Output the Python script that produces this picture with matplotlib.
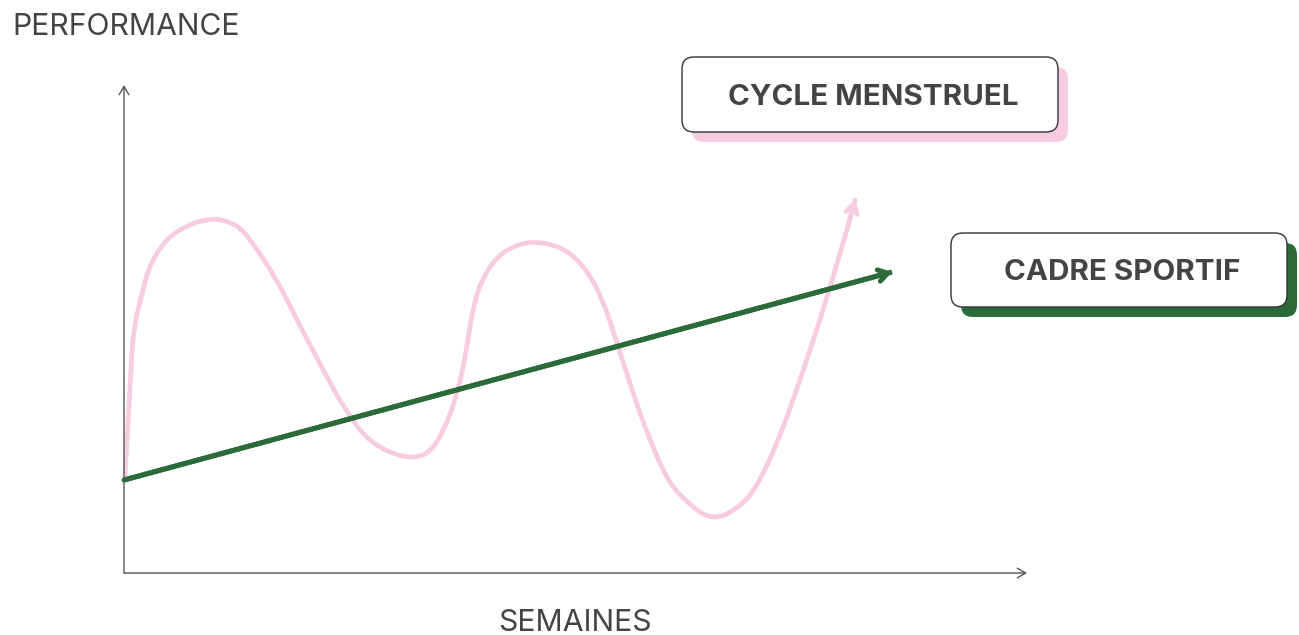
import matplotlib
matplotlib.use('Agg')
import matplotlib.pyplot as plt
from matplotlib.patches import FancyBboxPatch, PathPatch
from matplotlib.path import Path

# data (units: px from the origin of the axes, y upward)
cycle_x = [1, 6, 9, 19, 24, 36, 53, 86, 113, 129, 153, 173, 199, 223, 246, 279,
           303, 319, 334, 343, 348, 356, 373, 396, 419, 443, 463, 479, 493,
           509, 523, 543, 563, 589, 616, 633, 656, 676, 696, 709, 723, 731]
cycle_y = [98, 183, 243, 283, 303, 326, 343, 356, 349, 330, 293, 253, 203, 160,
           130, 115, 117, 140, 180, 226, 260, 290, 317, 330, 331, 323, 303, 273,
           230, 180, 140, 93, 70, 52, 66, 86, 136, 193, 253, 296, 343, 373]
trend_x = [0, 768]
trend_y = [93, 301]

frame_x = [0, 903]
frame_y = [0, 488]

pink = '#f7cce0'
green = '#2b6b3a'
ink = '#444444'

fig = plt.figure(figsize=(12.99, 6.35), dpi=100)
ax = fig.add_axes([0, 0, 1, 1])
ax.set_xlim(-124, 1175)
ax.set_ylim(-62, 573)
ax.axis('off')

# axes with open arrow heads
arr = dict(arrowstyle='->,head_length=0.6,head_width=0.35', color='#555555',
           lw=1.0, shrinkA=0, shrinkB=0)
ax.annotate('', xy=(frame_x[1], 0), xytext=(0, 0), arrowprops=arr)
ax.annotate('', xy=(0, frame_y[1]), xytext=(0, 0), arrowprops=arr)

# menstrual cycle curve, smoothed with quadratic bezier segments
pts = list(zip(cycle_x, cycle_y))
verts = [pts[0]]
codes = [Path.MOVETO]
for i in range(1, len(pts) - 2):
    mid = ((pts[i][0] + pts[i + 1][0]) / 2, (pts[i][1] + pts[i + 1][1]) / 2)
    verts += [pts[i], mid]
    codes += [Path.CURVE3, Path.CURVE3]
verts += [pts[-2], pts[-1]]
codes += [Path.CURVE3, Path.CURVE3]
ax.add_patch(PathPatch(Path(verts, codes), fc='none', ec=pink, lw=3.4,
                       capstyle='round', joinstyle='round', zorder=2))
ax.annotate('', xy=(cycle_x[-1], cycle_y[-1]), xytext=(cycle_x[-2], cycle_y[-2]),
            arrowprops=dict(arrowstyle='->,head_length=0.65,head_width=0.42',
                            color=pink, lw=3.4, shrinkA=0, shrinkB=0), zorder=2)

# sport frame trend
ax.plot(trend_x, trend_y, color=green, lw=3.6, solid_capstyle='butt', zorder=3)
ax.annotate('', xy=(trend_x[1], trend_y[1]), xytext=(trend_x[0], trend_y[0]),
            arrowprops=dict(arrowstyle='->,head_length=0.65,head_width=0.42',
                            color=green, lw=3.6, shrinkA=0, shrinkB=0), zorder=3)

# labelled boxes
def label_box(x0, y0, w, h, text, shadow):
    sh = FancyBboxPatch((x0 + 10, y0 - 10), w, h, boxstyle='round,pad=0,rounding_size=12',
                        fc=shadow, ec='none', zorder=4)
    bx = FancyBboxPatch((x0, y0), w, h, boxstyle='round,pad=0,rounding_size=12',
                        fc='white', ec='#333333', lw=1.0, zorder=5)
    ax.add_patch(sh)
    ax.add_patch(bx)
    ax.text(x0 + w / 2 + 3, y0 + h / 2 - 3, text, ha='center', va='center', fontsize=21.3,
            fontfamily='Inter', fontweight='bold', color=ink, zorder=6)

label_box(558, 441, 376, 75, 'CYCLE MENSTRUEL', pink)
label_box(827, 266, 336, 74, 'CADRE SPORTIF', green)

ax.text(-112, 546, 'PERFORMANCE', ha='left', va='center', fontsize=21.7,
        fontfamily='Inter', color=ink)
ax.text(451, -50, 'SEMAINES', ha='center', va='center', fontsize=21.7,
        fontfamily='Inter', color=ink)

plt.savefig('out.png', dpi=100)
